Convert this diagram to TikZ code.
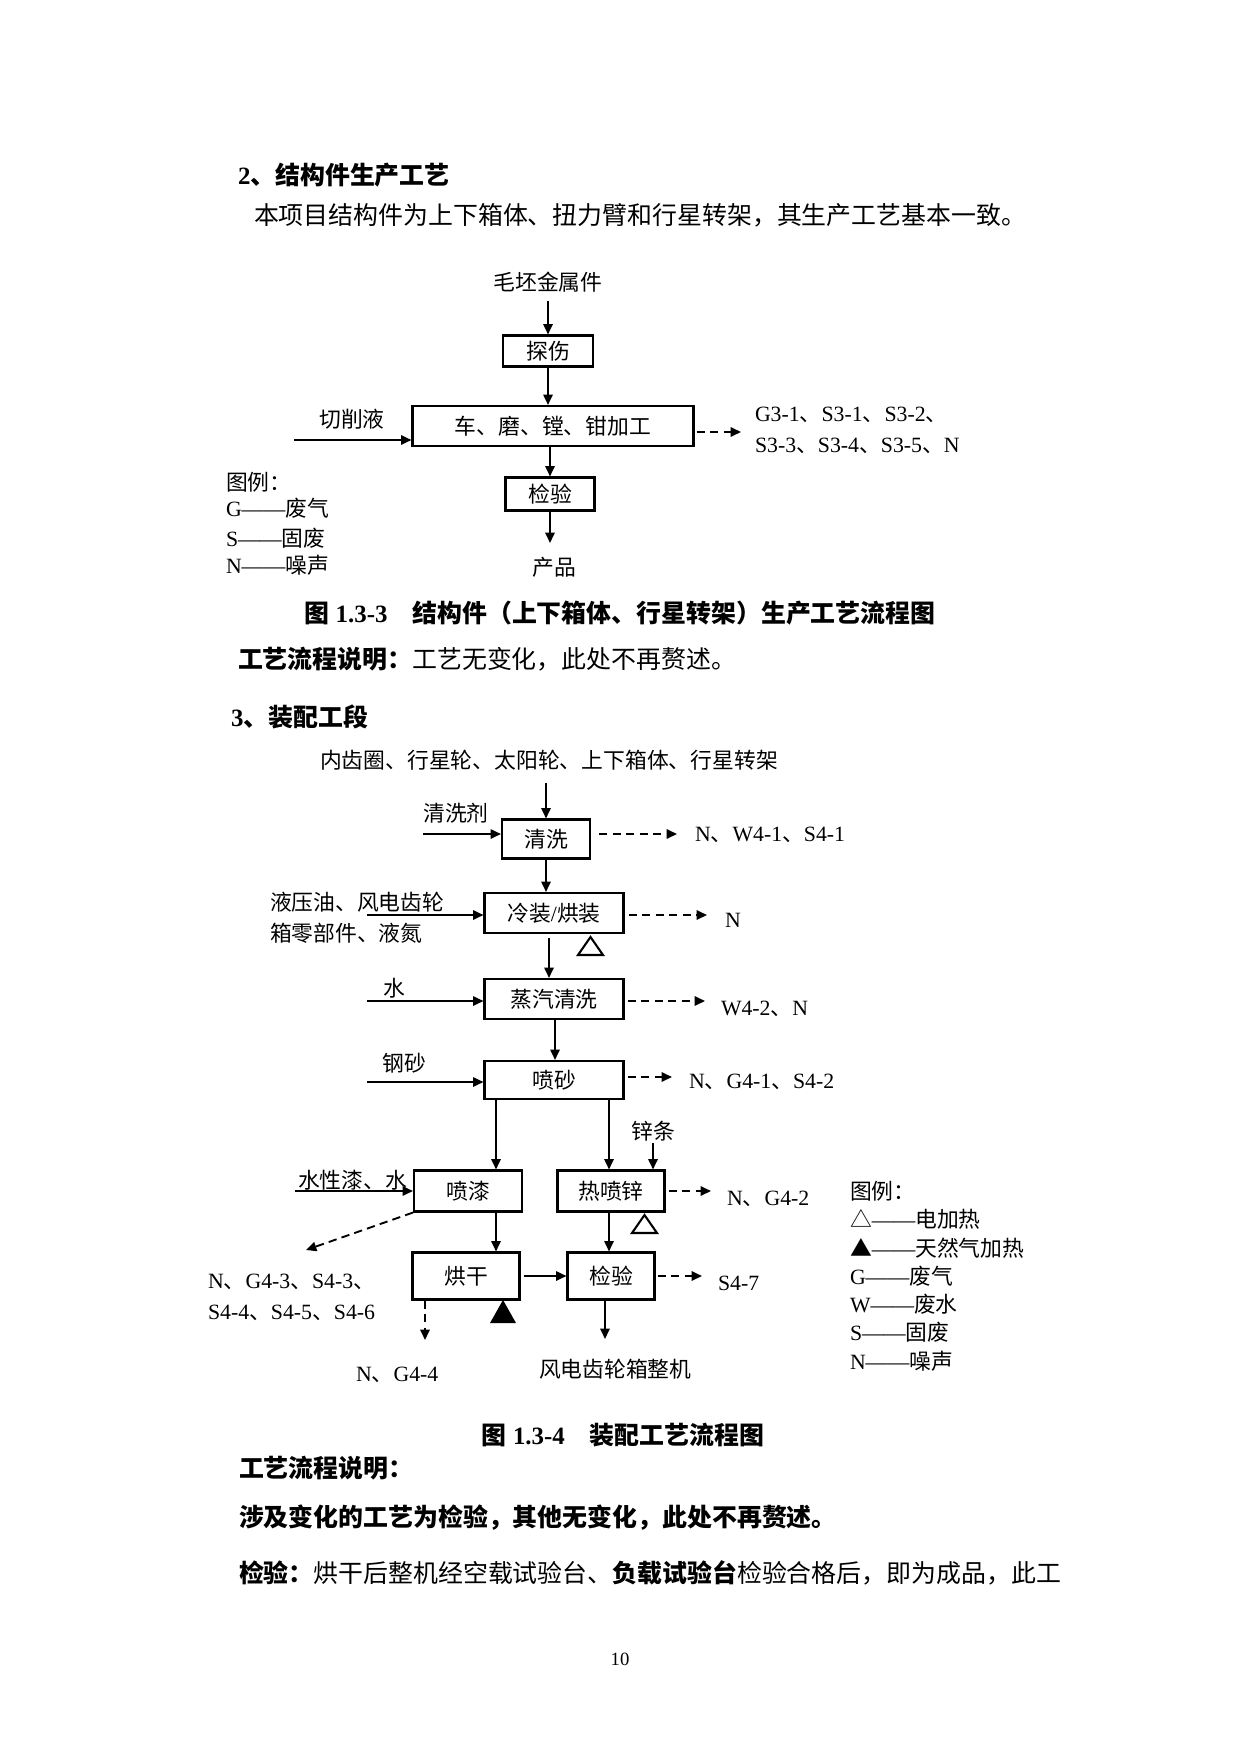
\documentclass[tikz,border=0pt]{standalone}
\usepackage{fontspec}
\setmainfont{Liberation Serif}
\newfontfamily\cjkfont{Noto Sans CJK SC}
\usetikzlibrary{arrows.meta}
\XeTeXinterchartokenstate=1
\chardef\cjkcls=7
\newcount\cjkcc
\cjkcc="2E80
\loop \XeTeXcharclass\cjkcc=\cjkcls\relax \advance\cjkcc by 1\relax \ifnum\cjkcc<"A000 \repeat
\cjkcc="FF00
\loop \XeTeXcharclass\cjkcc=\cjkcls\relax \advance\cjkcc by 1\relax \ifnum\cjkcc<"FFF0 \repeat
\XeTeXcharclass"25B2=\cjkcls\relax
\XeTeXcharclass"25B3=\cjkcls\relax
\XeTeXinterchartoks 0 \cjkcls = {\cjkfont}
\XeTeXinterchartoks 4095 \cjkcls = {\cjkfont}
\XeTeXinterchartoks \cjkcls \cjkcls = {\cjkfont}
\XeTeXinterchartoks \cjkcls 0 = {\rmfamily}
\XeTeXinterchartoks \cjkcls 4095 = {\rmfamily}
\newdimen\pxu \pxu=0.4818pt
\newcommand\dfs{\fontsize{10.5pt}{12pt}\selectfont}
\newcommand\bfs{\fontsize{12pt}{14pt}\selectfont}
\tikzset{
 lab/.style={inner sep=0pt, outer sep=0pt, font=\dfs, text height=9.3pt, text depth=1.2pt},
 btx/.style={inner sep=0pt, outer sep=0pt, font=\bfs, text height=10.6pt, text depth=1.4pt},
 hd/.style={btx, font=\bfs\bfseries},
 box/.style={draw, line width=1pt, inner sep=0pt, font=\dfs, text height=9.3pt, text depth=1.2pt},
 arr/.style={line width=0.9pt, -{Triangle[length=5pt,width=4.5pt]}},
 darr/.style={arr, dash pattern=on 4pt off 2.5pt},
 tri/.style={line width=1pt},
}
\begin{document}
\begin{tikzpicture}[x=1\pxu,y=-1\pxu]
\fill[white] (0,0) rectangle (1240,1754);
\useasboundingbox (0,0) rectangle (1240,1754);
% ---------- section 2 ----------
\node[hd, anchor=west] (h2) at (238,175) {2、结构件生产工艺};
\node[btx, anchor=west] (p1) at (254,215) {本项目结构件为上下箱体、扭力臂和行星转架，其生产工艺基本一致。};
\node[lab] (raw) at (548,282) {毛坯金属件};
\node[box, minimum width=90\pxu, minimum height=31\pxu] (tan) at (548,351) {探伤};
\node[box, minimum width=281\pxu, minimum height=40\pxu] (mach) at (553,426) {车、磨、镗、钳加工};
\node[box, minimum width=89\pxu, minimum height=33\pxu] (ins1) at (550,494) {检验};
\node[lab] (prod) at (554,567) {产品};
\node[lab] (cut) at (352,419) {切削液};
\coordinate (cutS) at (294,440);
\node[lab, anchor=west] (o1a) at (755,413) {G3-1、S3-1、S3-2、};
\node[lab, anchor=west] (o1b) at (755,444) {S3-3、S3-4、S3-5、N};
\coordinate (o1e) at (741,432);
\coordinate (prodT) at (550,543);
\draw[arr] (raw.south) ++(0,8) -- (tan.north);
\draw[arr] (tan.south) -- (tan.south |- mach.north);
\draw[arr] (mach.south -| ins1.north) -- (ins1.north);
\draw[arr] (ins1.south) -- (prodT);
\draw[arr] (cutS) -- (cutS -| mach.west);
\draw[darr] (mach.east |- o1e) ++(2,0) -- (o1e);
\node[lab, anchor=west] (lg1) at (226,482) {图例：};
\node[lab, anchor=west] (lg2) at (226,508) {G——废气};
\node[lab, anchor=west] (lg3) at (226,538) {S——固废};
\node[lab, anchor=west] (lg4) at (226,565) {N——噪声};
\node[hd] (cap1) at (620,613) {图 1.3-3　结构件（上下箱体、行星转架）生产工艺流程图};
\node[btx, anchor=west] (d1) at (238,659) {\textbf{工艺流程说明：}工艺无变化，此处不再赘述。};
% ---------- section 3 ----------
\node[hd, anchor=west] (h3) at (231,717) {3、装配工段};
\node[lab] (parts) at (549,760) {内齿圈、行星轮、太阳轮、上下箱体、行星转架};
\node[box, minimum width=88\pxu, minimum height=39\pxu] (clean) at (546,839) {清洗};
\draw[arr] (clean.north |- parts.south) ++(0,12) -- (clean.north);
\node[lab] (cleanA) at (456,813) {清洗剂};
\coordinate (cleanS) at (423,834);
\draw[arr] (cleanS) -- (cleanS -| clean.west);
\coordinate (o2e) at (677,834);
\draw[darr] (clean.east |- o2e) ++(8,0) -- (o2e);
\node[lab, anchor=west] (o2) at (695,833) {N、W4-1、S4-1};
\node[box, minimum width=139\pxu, minimum height=40\pxu] (cold) at (554,913) {冷装/烘装};
\draw[arr] (clean.south) -- (clean.south |- cold.north);
\node[lab, anchor=west] (coldA1) at (270,902) {液压油、风电齿轮};
\node[lab, anchor=west] (coldA2) at (270,933) {箱零部件、液氮};
\coordinate (coldS) at (367,915);
\draw[arr] (coldS) -- (coldS -| cold.west);
\coordinate (o3e) at (707,915);
\draw[darr] (cold.east |- o3e) ++(4,0) -- (o3e);
\node[lab, anchor=west] (o3) at (725,919) {N};
\draw[tri] (578,955) -- (603,955) -- (590.5,937) -- cycle;
\node[box, minimum width=139\pxu, minimum height=40\pxu] (steam) at (554,999) {蒸汽清洗};
\coordinate (c2) at (549,0);
\draw[arr] (cold.south -| c2) ++(0,4) -- (steam.north -| c2);
\node[lab] (water) at (394,988) {水};
\coordinate (waterS) at (367,1001);
\draw[arr] (waterS) -- (waterS -| steam.west);
\coordinate (o4e) at (705,1001);
\draw[darr] (steam.east |- o4e) ++(3,0) -- (o4e);
\node[lab, anchor=west] (o4) at (721,1007) {W4-2、N};
\node[box, minimum width=139\pxu, minimum height=38\pxu] (blast) at (554,1080) {喷砂};
\coordinate (c3) at (555,0);
\draw[arr] (steam.south -| c3) -- (blast.north -| c3);
\node[lab] (sand) at (404,1063) {钢砂};
\coordinate (sandS) at (367,1082);
\draw[arr] (sandS) -- (sandS -| blast.west);
\coordinate (o5e) at (672,1077);
\draw[darr] (blast.east |- o5e) ++(3,0) -- (o5e);
\node[lab, anchor=west] (o5) at (689,1080) {N、G4-1、S4-2};
\node[box, minimum width=108\pxu, minimum height=41\pxu] (paint) at (468,1191) {喷漆};
\node[box, minimum width=107\pxu, minimum height=41\pxu] (zinc) at (611,1191) {热喷锌};
\coordinate (pc) at (496,0);
\coordinate (zc) at (609,0);
\draw[arr] (blast.south -| pc) -- (paint.north -| pc);
\draw[arr] (blast.south -| zc) -- (zinc.north -| zc);
\node[lab] (zn) at (653,1131) {锌条};
\draw[arr] (zn.south) ++(0,1) -- (zn.south |- zinc.north);
\node[lab, anchor=west] (paintA) at (298,1180) {水性漆、水};
\coordinate (paintS) at (295,1191);
\draw[arr] (paintS) -- (paint.west);
\coordinate (o6e) at (711,1191);
\draw[darr] (zinc.east |- o6e) ++(3,0) -- (o6e);
\node[lab, anchor=west] (o6) at (727,1197) {N、G4-2};
\draw[tri] (632,1233) -- (657,1233) -- (644.5,1215) -- cycle;
\coordinate (o7e) at (306,1250);
\draw[darr] (paint.south west) -- (o7e);
\node[lab, anchor=west] (o7a) at (208,1280) {N、G4-3、S4-3、};
\node[lab, anchor=west] (o7b) at (208,1311) {S4-4、S4-5、S4-6};
\node[box, minimum width=107\pxu, minimum height=47\pxu] (dry) at (466,1276) {烘干};
\node[box, minimum width=87\pxu, minimum height=47\pxu] (insp) at (611,1276) {检验};
\draw[arr] (paint.south -| pc) -- (dry.north -| pc);
\draw[arr] (zinc.south -| zc) -- (insp.north -| zc);
\draw[arr] (dry.east) ++(3,0) -- (insp.west);
\coordinate (o8e) at (702,1276);
\draw[darr] (insp.east) ++(2,0) -- (o8e);
\node[lab, anchor=west] (o8) at (718,1282) {S4-7};
\coordinate (o9e) at (425,1340);
\draw[darr] (dry.south -| o9e) -- (o9e);
\fill (490,1323) -- (516,1323) -- (503,1300) -- cycle;
\coordinate (fe) at (605,1339);
\draw[arr] (insp.south -| fe) -- (fe);
\node[lab, anchor=west] (final) at (539,1369) {风电齿轮箱整机};
\node[lab, anchor=west] (o9) at (356,1373) {N、G4-4};
% legend
\node[lab, anchor=west] (l1) at (850,1191) {图例：};
\node[lab, anchor=west] (l2) at (850,1219) {△——电加热};
\node[lab, anchor=west] (l3) at (850,1248) {▲——天然气加热};
\node[lab, anchor=west] (l4) at (850,1276) {G——废气};
\node[lab, anchor=west] (l5) at (850,1304) {W——废水};
\node[lab, anchor=west] (l6) at (850,1332) {S——固废};
\node[lab, anchor=west] (l7) at (850,1361) {N——噪声};
% captions and text
\node[hd] (cap2) at (623,1435) {图 1.3-4　装配工艺流程图};
\node[hd, anchor=west] (d2a) at (239,1468) {工艺流程说明：};
\node[hd, anchor=west] (d2b) at (239,1517) {涉及变化的工艺为检验，其他无变化，此处不再赘述。};
\node[btx, anchor=west] (d2c) at (239,1573) {\textbf{检验：}烘干后整机经空载试验台、\textbf{负载试验台}检验合格后，即为成品，此工};
\node[inner sep=0pt, font=\fontsize{9pt}{10pt}\selectfont] (pg) at (620,1659) {10};
\end{tikzpicture}
\end{document}
